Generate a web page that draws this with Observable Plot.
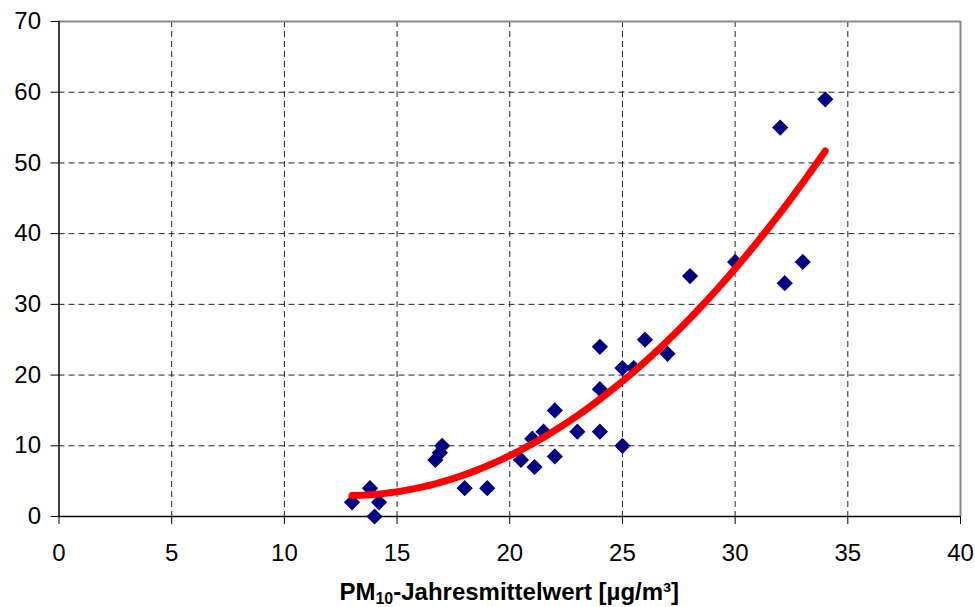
<!DOCTYPE html>
<html><head><meta charset="utf-8">
<script src="https://cdn.jsdelivr.net/npm/d3@7"></script>
<script src="https://cdn.jsdelivr.net/npm/@observablehq/plot@0.6"></script>
<style>
body{margin:0;background:#fff;font-family:"Liberation Sans",Arial,sans-serif;}
#wrap{position:relative;width:975px;height:607px;overflow:hidden;}
#title{position:absolute;left:58.5px;width:901.5px;top:580px;text-align:center;font-weight:bold;font-size:24px;line-height:24px;color:#000;}
#title sub{font-size:16px;line-height:0;vertical-align:-4px;}
</style></head><body>
<div id="wrap"><div id="chart"></div><div id="title">PM<sub>10</sub>-Jahresmittelwert [µg/m³]</div></div>
<script>
// PM10 annual mean (x) and observed values (y)
const pm10   = [13, 13.8, 14.2, 14, 16.7, 16.9, 17, 18, 19, 20.5, 21.1, 21, 21.5, 22, 22, 23, 24, 24, 24, 25, 25, 25.5, 26, 27, 28, 30, 32.2, 33, 32, 34];
const values = [2,  4,    2,    0,  8,    9,    10, 4,  4,  8,    7,    11, 12,   8.5, 15, 12, 12, 18, 24, 10, 21, 21,   25, 23, 34, 36, 33,   36, 55, 59];
const xTicks = [0, 5, 10, 15, 20, 25, 30, 35, 40];
const yTicks = [0, 10, 20, 30, 40, 50, 60, 70];

const pts = pm10.map((x, i) => ({x, y: values[i]}));

// Polynomial (order 2) least-squares trendline, as in the spreadsheet
function polyFit2(xs, ys) {
  let S = [0,0,0,0,0], T = [0,0,0];
  for (let i = 0; i < xs.length; i++) {
    let p = 1;
    for (let k = 0; k < 5; k++) { S[k] += p; if (k < 3) T[k] += p * ys[i]; p *= xs[i]; }
  }
  const A = [[S[0],S[1],S[2],T[0]],[S[1],S[2],S[3],T[1]],[S[2],S[3],S[4],T[2]]];
  for (let c = 0; c < 3; c++) {
    for (let r = c + 1; r < 3; r++) {
      const f = A[r][c] / A[c][c];
      for (let k = c; k < 4; k++) A[r][k] -= f * A[c][k];
    }
  }
  const b = [0,0,0];
  for (let r = 2; r >= 0; r--) {
    let s = A[r][3];
    for (let k = r + 1; k < 3; k++) s -= A[r][k] * b[k];
    b[r] = s / A[r][r];
  }
  return b;
}
const coef = polyFit2(pm10, values);
const xmin = d3.min(pm10), xmax = d3.max(pm10);
const trend = d3.range(0, 101).map(i => {
  const x = xmin + (xmax - xmin) * i / 100;
  return {x, y: coef[0] + coef[1] * x + coef[2] * x * x};
});

const gridStyle = {stroke: "#222", strokeOpacity: 1, strokeWidth: 1, strokeDasharray: "6,4"};

const chart = Plot.plot({
  width: 975,
  height: 575,
  marginLeft: 58.5,
  marginRight: 15,
  marginTop: 21,
  marginBottom: 59,
  style: {fontFamily: "'Liberation Sans', Arial, sans-serif", background: "#fff"},
  x: {domain: [0, 40]},
  y: {domain: [0, 70]},
  marks: [
    Plot.gridX(xTicks.filter(t => t > 0 && t < 40), gridStyle),
    Plot.gridY(yTicks.filter(t => t > 0 && t < 70), gridStyle),
    Plot.ruleY([70], {stroke: "#888", strokeWidth: 2}),
    Plot.ruleX([40], {stroke: "#888", strokeWidth: 2}),
    Plot.axisX({ticks: xTicks, tickSize: 8, tickPadding: 19, fontSize: 24, label: null, stroke: "#000", color: "#000"}),
    Plot.axisY({ticks: yTicks, tickSize: 8, tickPadding: 10, fontSize: 24, label: null, stroke: "#000", color: "#000"}),
    Plot.ruleX([0], {stroke: "#000", strokeWidth: 1.5}),
    Plot.ruleY([0], {stroke: "#000", strokeWidth: 1.5}),
    Plot.dot(pts, {x: "x", y: "y", symbol: "diamond2", r: 7.3, fill: "#000080", stroke: "none"}),
    Plot.line(trend, {x: "x", y: "y", stroke: "#ff0000", strokeWidth: 7, strokeLinecap: "round", curve: "linear"})
  ]
});
document.getElementById("chart").appendChild(chart);
</script>
</body></html>
